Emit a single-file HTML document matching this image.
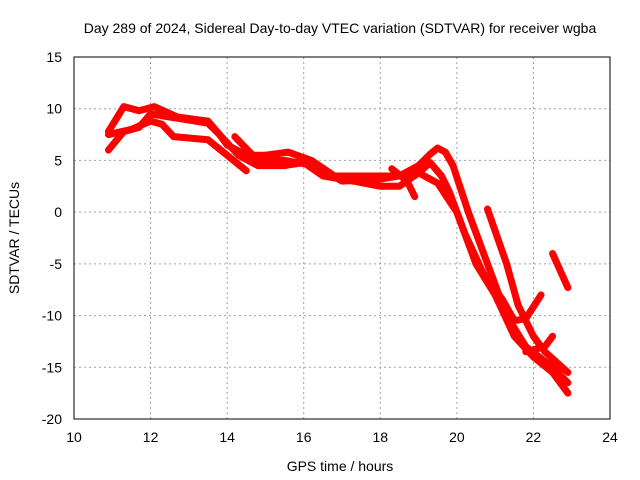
<!DOCTYPE html>
<html><head><meta charset="utf-8"><style>
body{margin:0;background:#fff}
svg{display:block;font-family:"Liberation Sans",sans-serif}
</style></head><body>
<svg id="chart" width="640" height="480">
<rect width="640" height="480" fill="#fff"/>
<text x="340" y="33" font-size="14" text-anchor="middle">Day 289 of 2024, Sidereal Day-to-day VTEC variation (SDTVAR) for receiver wgba</text>
<g id="grid"></g><g id="ticks"></g><g id="series"></g>
<rect x="74" y="57" width="536" height="362" fill="none" stroke="#000"/>
<text x="340" y="471" font-size="14" text-anchor="middle">GPS time / hours</text>
<text transform="translate(19,238) rotate(-90)" font-size="14" text-anchor="middle">SDTVAR / TECUs</text>
</svg>
<script>
const xTicks=[10,12,14,16,18,20,22,24];
const yTicks=[15,10,5,0,-5,-10,-15,-20];
const trackAX=[10.9,11.3,11.7,12,12.5,13,13.5,13.8,14,14.5,15,15.6,16.2,16.8,17.5,18.5,19,19.3,19.5,19.7,19.9,20.3,20.8,21.3,21.8,22.5,22.9];
const trackAY=[6,7.8,8.2,9.5,9.2,8.9,8.6,7.5,6.5,5.5,5.5,5.8,5,3.5,3.5,3.5,4.5,5.6,6.2,5.8,4.5,0,-5,-10,-13,-15,-16.5];
const trackBX=[10.9,11.3,11.7,12.1,12.7,13.1,13.5,13.8,14.3,14.8,15.5,16,16.5,17.3,18,18.5,19,19.3,19.6,19.8,20.2,20.7,21.2,21.5,21.8,22.2];
const trackBY=[7.8,10.2,9.8,10.2,9.2,9,8.8,7.5,5.5,4.5,4.5,4.8,3.5,3,2.5,2.5,3.8,4.8,3.5,2,-2,-6,-8.5,-10.5,-10.3,-8];
const trackCX=[10.9,11.5,12,12.3,12.6,13.5,14,14.5];
const trackCY=[7.5,8,8.8,8.5,7.3,7,5.5,4];
const trackDX=[14.2,14.8,15.5,16.3,17,18,18.5,19,19.5,20,20.5,21,21.5,22,22.5,22.9];
const trackDY=[7.3,5,5,4.5,3,3.2,3.5,3.8,2.8,0,-5,-8,-12,-14,-15.5,-17.5];
const trackEX=[18.3,18.7,18.9];
const trackEY=[4.2,3,1.5];
const trackFX=[20.8,21.3,21.6,22,22.3,22.9];
const trackFY=[0.3,-5,-9,-12,-13.5,-15.5];
const trackGX=[22.5,22.9];
const trackGY=[-4,-7.3];
const trackHX=[21.8,22.3,22.5];
const trackHY=[-13.5,-13,-12];
const NS='http://www.w3.org/2000/svg';
const sx=v=>74+(v-10)*536/14, sy=v=>57+(15-v)*362/35;
function mk(t,a,p){const e=document.createElementNS(NS,t);for(const k in a)e.setAttribute(k,a[k]);p.appendChild(e);return e;}
const grid=document.getElementById('grid'),ticks=document.getElementById('ticks'),ser=document.getElementById('series');
xTicks.forEach(v=>{const x=sx(v);
 if(v>10&&v<24){const l=mk('line',{x1:x,x2:x,y1:57,y2:419,stroke:'#a0a0a0','stroke-dasharray':'2,3'},grid);
 
 }
 const t=mk('text',{x:x,y:442,'font-size':14,'text-anchor':'middle'},ticks);t.textContent=v;
 
 });
yTicks.forEach(v=>{const y=sy(v);
 if(v<15&&v>-20){const l=mk('line',{x1:74,x2:610,y1:y,y2:y,stroke:'#a0a0a0','stroke-dasharray':'2,3'},grid);
 
 }
 const t=mk('text',{x:62,y:y+5,'font-size':14,'text-anchor':'end'},ticks);t.textContent=v;
 
 });
const tracks=[[trackAX,trackAY],[trackBX,trackBY],[trackCX,trackCY],[trackDX,trackDY],[trackEX,trackEY],[trackFX,trackFY],[trackGX,trackGY],[trackHX,trackHY]];
tracks.forEach(([X,Y],i)=>{
 const pts=X.map((x,j)=>sx(x)+','+sy(Y[j])).join(' ');
 const p=mk('polyline',{points:pts,fill:'none',stroke:'#ff0000','stroke-width':7,'stroke-linejoin':'round','stroke-linecap':'round'},ser);
 
 
});
</script>
</body></html>
